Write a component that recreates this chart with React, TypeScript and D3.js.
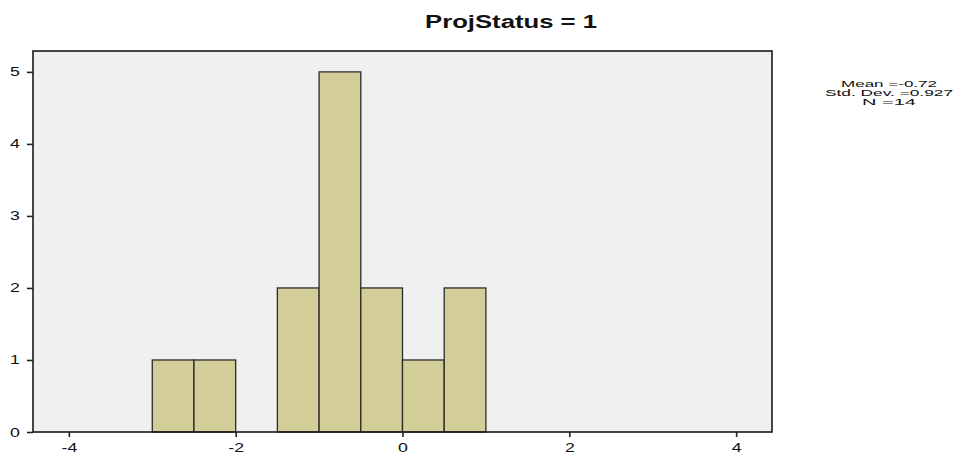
import React, { useEffect, useRef } from 'react';
import * as d3 from 'd3';

// histogram bins (lower edge) and their frequencies
const binStarts = [-3, -2.5, -1.5, -1, -0.5, 0, 0.5];
const binWidth = 0.5;
const counts = [1, 1, 2, 5, 2, 1, 2];
const xTicks = [-4, -2, 0, 2, 4];
const yTicks = [0, 1, 2, 3, 4, 5];
const title = 'ProjStatus = 1';
const statsLines = ['Mean =-0.72', 'Std. Dev. =0.927', 'N =14'];
const statsWidths = [96, 128, 54];

const App = () => {
    const ref = useRef<SVGSVGElement>(null);

    useEffect(() => {
        const width = 960;
        const height = 453;
        const margin = { top: 51, left: 33, right: 188, bottom: 21 };
        const innerWidth = width - margin.left - margin.right;
        const innerHeight = height - margin.top - margin.bottom;
        const stretch = 1.42;
        const font = 'Liberation Sans, Arial, sans-serif';

        const svg = d3.select(ref.current);
        svg.selectAll('*').remove();

        const xScale = d3.scaleLinear().domain([-4.43, 4.43]).range([0, innerWidth]);
        const yScale = d3.scaleLinear().domain([0, 5.29]).range([innerHeight, 0]);

        const g = svg.append('g').attr('transform', `translate(${margin.left},${margin.top})`);

        g.append('rect')
            .attr('width', innerWidth)
            .attr('height', innerHeight)
            .attr('fill', '#f0f0f0');

        const bins = binStarts.map((x0, i) => ({ x0, x1: x0 + binWidth, n: counts[i] }));

        g.selectAll('rect.bar')
            .data(bins)
            .join('rect')
            .attr('class', 'bar')
            .attr('x', (d) => xScale(d.x0))
            .attr('y', (d) => yScale(d.n))
            .attr('width', (d) => xScale(d.x1) - xScale(d.x0))
            .attr('height', (d) => innerHeight - yScale(d.n))
            .attr('fill', '#d3ce98')
            .attr('stroke', '#2b2b2b')
            .attr('stroke-width', 1.3);

        g.append('rect')
            .attr('width', innerWidth)
            .attr('height', innerHeight)
            .attr('fill', 'none')
            .attr('stroke', '#1a1a1a')
            .attr('stroke-width', 1.6);

        // axes
        const fmt = (d: d3.NumberValue) => String(d);
        const xAxis = g.append('g')
            .attr('transform', `translate(0,${innerHeight})`)
            .call(d3.axisBottom(xScale).tickValues(xTicks).tickFormat(fmt).tickSize(5).tickSizeOuter(0));
        const yAxis = g.append('g')
            .call(d3.axisLeft(yScale).tickValues(yTicks).tickFormat(fmt).tickSize(6).tickSizeOuter(0));

        [xAxis, yAxis].forEach((ax) => {
            ax.select('.domain').remove();
            ax.selectAll('line').attr('stroke', '#222').attr('stroke-width', 1.6);
            ax.selectAll('text')
                .attr('font-family', font)
                .attr('font-size', 12.5)
                .attr('fill', '#111');
        });
        xAxis.selectAll('text')
            .attr('transform', `translate(0,8) scale(${stretch},1)`)
            .attr('y', 0)
            .attr('dy', '0.95em');
        yAxis.selectAll('text')
            .attr('transform', `translate(-13,0) scale(${stretch},1)`)
            .attr('x', 0)
            .attr('text-anchor', 'end');

        // title
        svg.append('text')
            .attr('x', 511)
            .attr('y', 28)
            .attr('text-anchor', 'middle')
            .attr('font-family', font)
            .attr('font-weight', 'bold')
            .attr('font-size', 18)
            .attr('textLength', 172)
            .attr('lengthAdjust', 'spacingAndGlyphs')
            .attr('fill', '#111')
            .text(title);

        // summary statistics
        statsLines.forEach((line, i) => {
            svg.append('text')
                .attr('x', 889)
                .attr('y', 86.5 + i * 9)
                .attr('text-anchor', 'middle')
                .attr('font-family', font)
                .attr('font-size', 9.5)
                .attr('textLength', statsWidths[i])
                .attr('lengthAdjust', 'spacingAndGlyphs')
                .attr('fill', '#111')
                .text(line);
        });
    }, []);

    return (
        <svg
            ref={ref}
            width={960}
            height={453}
            style={{ position: 'absolute', left: 0, top: 0, background: '#fff' }}
        />
    );
};

export default App;
